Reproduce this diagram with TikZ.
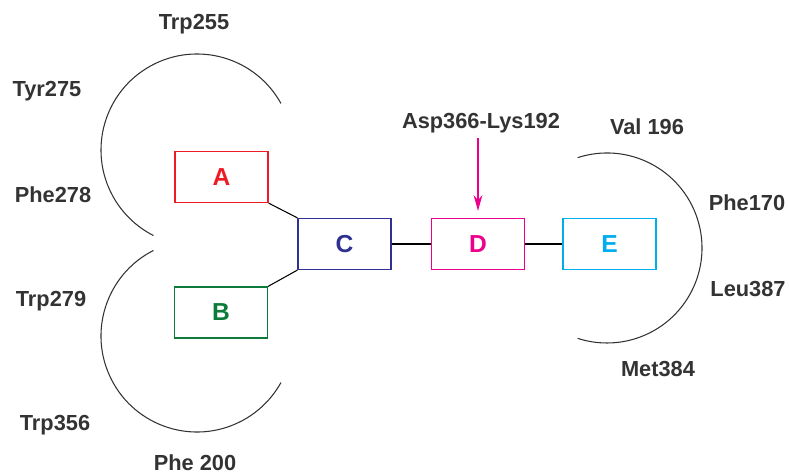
\documentclass[tikz,border=0pt]{standalone}
\usepackage{fontspec}
\setmainfont{Liberation Sans}
\usetikzlibrary{arrows.meta}

\definecolor{siteA}{HTML}{ED1C24}
\definecolor{siteB}{HTML}{0B7A3B}
\definecolor{siteC}{HTML}{2E3192}
\definecolor{siteD}{HTML}{EC008C}
\definecolor{siteE}{HTML}{00AEEF}
\definecolor{resgray}{HTML}{333333}

\begin{document}
\begin{tikzpicture}[>=Stealth,
    site/.style={draw=#1,text=#1,line width=0.7pt,minimum width=1.86cm,minimum height=1.02cm,
      inner sep=0pt,font=\fontsize{14}{16}\selectfont\bfseries},
    res/.style={text=resgray,font=\fontsize{12.4}{14}\selectfont\bfseries,inner sep=1pt},
    pocket/.style={draw=black!80,line width=0.6pt}]
  \useasboundingbox (0,0) rectangle (15.78,9.5);
  % the five sites of the ligand
  \node[site=siteA] (A) at (4.43,5.96) {A};
  \node[site=siteB] (B) at (4.42,3.25) {B};
  \node[site=siteC] (C) at (6.89,4.62) {C};
  \node[site=siteD] (D) at (9.56,4.62) {D};
  \node[site=siteE] (E) at (12.19,4.62) {E};
  \draw[line width=0.6pt] (A.south east) -- (C.north west);
  \draw[line width=0.6pt] (B.north east) -- (C.south west);
  \draw[line width=0.6pt] (C) -- (D);
  \draw[line width=0.6pt] (D) -- (E);
  % pockets of the receptor
  \coordinate (upper) at (3.94,6.50);
  \coordinate (lower) at (3.94,2.78);
  \coordinate (right) at (12.14,4.54);
  \draw[pocket] (upper) ++(29:1.92) arc (29:243:1.92);
  \draw[pocket] (lower) ++(117:1.92) arc (117:331:1.92);
  \draw[pocket] (right) ++(108:1.90) arc (108:-108:1.90);
  % residues lining the pockets
  \node[res] (trp255) at (3.88,9.02) {Trp255};
  \node[res] (tyr275) at (0.94,7.68) {Tyr275};
  \node[res] (phe278) at (1.06,5.60) {Phe278};
  \node[res] (trp279) at (1.02,3.48) {Trp279};
  \node[res] (trp356) at (1.10,1.00) {Trp356};
  \node[res] (phe200) at (3.90,0.24) {Phe 200};
  \node[res] (val196) at (12.94,6.96) {Val 196};
  \node[res] (phe170) at (14.94,5.44) {Phe170};
  \node[res] (leu387) at (14.96,3.72) {Leu387};
  \node[res] (met384) at (13.16,2.12) {Met384};
  % salt bridge pointing at D
  \node[res] (saltbridge) at (9.62,7.04) {Asp366-Lys192};
  \draw[->,siteD,line width=0.7pt,shorten <=2pt,shorten >=4pt,
    arrows={-Stealth[length=9pt,width=5pt]}] (saltbridge.south -| D.north) -- (D.north);
\end{tikzpicture}
\end{document}
